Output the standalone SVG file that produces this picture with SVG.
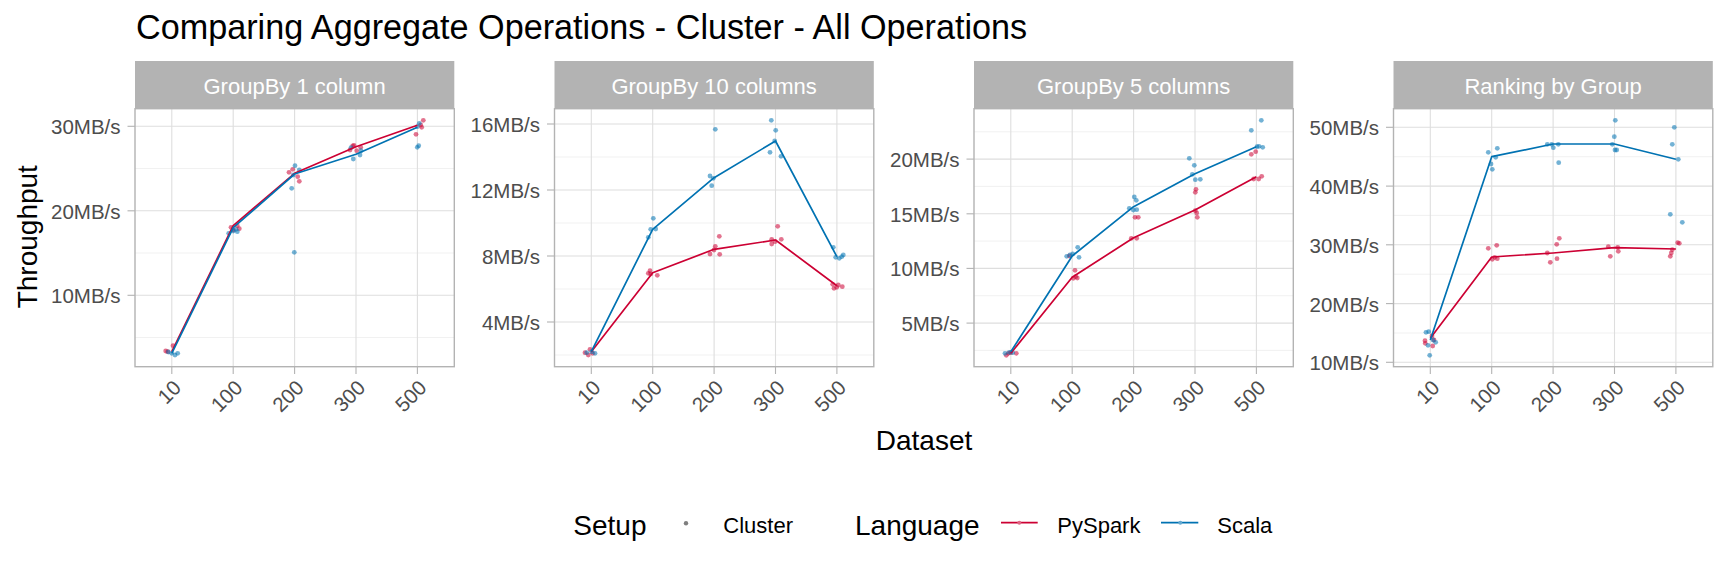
<svg xmlns="http://www.w3.org/2000/svg" width="1728" height="576" viewBox="0 0 1728 576">
<style>
text{font-family:"Liberation Sans",Arial,sans-serif}
.title{font-size:34.2px;fill:#000}
.axt{font-size:28px;fill:#000}
.tick{font-size:20.5px;fill:#4d4d4d}
.ytick{text-anchor:end}
.xtick{text-anchor:end}
.strip{fill:#b3b3b3}
.stript{font-size:22px;fill:#fff;text-anchor:middle}
.border{fill:none;stroke:#b3b3b3;stroke-width:1.4}
.gmaj{stroke:#dedede;stroke-width:1.1}
.gmin{stroke:#ebebeb;stroke-width:0.7}
.tk{stroke:#b3b3b3;stroke-width:1.1}
.lr{fill:none;stroke:#cc0033;stroke-width:1.7;stroke-linejoin:round}
.lb{fill:none;stroke:#0072b2;stroke-width:1.7;stroke-linejoin:round}
.pr circle{fill:#cc0033;fill-opacity:0.55}
.pb circle{fill:#0072b2;fill-opacity:0.55}
.legt{font-size:28px;fill:#000}
.legl{font-size:22px;fill:#000}
</style>
<rect width="1728" height="576" fill="#fff"/>
<text class="title" x="136" y="38.5">Comparing Aggregate Operations - Cluster - All Operations</text>
<text class="axt" transform="translate(37,236.7) rotate(-90)" text-anchor="middle">Throughput</text>
<text class="axt" x="924" y="450" text-anchor="middle">Dataset</text>

<g id="panel1">
<rect class="strip" x="135" y="61" width="319.3" height="47.7"/>
<text class="stript" x="294.6" y="94">GroupBy 1 column</text>
<g>
<line class="gmin" x1="135" x2="454.3" y1="168.5" y2="168.5"/><line class="gmin" x1="135" x2="454.3" y1="253" y2="253"/><line class="gmin" x1="135" x2="454.3" y1="337.5" y2="337.5"/>
<line class="gmaj" x1="135" x2="454.3" y1="126.3" y2="126.3"/><line class="gmaj" x1="135" x2="454.3" y1="210.8" y2="210.8"/><line class="gmaj" x1="135" x2="454.3" y1="295.3" y2="295.3"/>
<line class="gmaj" x1="171.8" x2="171.8" y1="108.7" y2="366.7"/><line class="gmaj" x1="233.2" x2="233.2" y1="108.7" y2="366.7"/><line class="gmaj" x1="294.6" x2="294.6" y1="108.7" y2="366.7"/><line class="gmaj" x1="356" x2="356" y1="108.7" y2="366.7"/><line class="gmaj" x1="417.4" x2="417.4" y1="108.7" y2="366.7"/>
</g>
<g class="pr"><circle cx="165.7" cy="351" r="2.4"/><circle cx="167.7" cy="351.7" r="2.4"/><circle cx="173" cy="345.7" r="2.4"/><circle cx="231" cy="227.3" r="2.4"/><circle cx="237.3" cy="225.7" r="2.4"/><circle cx="239.3" cy="228.7" r="2.4"/><circle cx="233.3" cy="230" r="2.4"/><circle cx="289" cy="172.3" r="2.4"/><circle cx="292.7" cy="169.3" r="2.4"/><circle cx="297.7" cy="176.7" r="2.4"/><circle cx="299.3" cy="181.3" r="2.4"/><circle cx="352.7" cy="146" r="2.4"/><circle cx="354" cy="145.3" r="2.4"/><circle cx="356.7" cy="150.7" r="2.4"/><circle cx="360.7" cy="147.3" r="2.4"/><circle cx="350" cy="150" r="2.4"/><circle cx="416" cy="134.3" r="2.4"/><circle cx="421.7" cy="127.3" r="2.4"/><circle cx="423.3" cy="120.3" r="2.4"/><circle cx="420.7" cy="125" r="2.4"/></g>
<g class="pb"><circle cx="168.3" cy="352" r="2.4"/><circle cx="171.7" cy="353.3" r="2.4"/><circle cx="175" cy="355" r="2.4"/><circle cx="177.7" cy="353.3" r="2.4"/><circle cx="228.7" cy="233.3" r="2.4"/><circle cx="233.3" cy="231" r="2.4"/><circle cx="237.3" cy="231.7" r="2.4"/><circle cx="236" cy="229.3" r="2.4"/><circle cx="291.7" cy="188.3" r="2.4"/><circle cx="295" cy="165.7" r="2.4"/><circle cx="299.3" cy="170" r="2.4"/><circle cx="294.3" cy="252.3" r="2.4"/><circle cx="293.3" cy="175" r="2.4"/><circle cx="351" cy="147.7" r="2.4"/><circle cx="353.3" cy="159" r="2.4"/><circle cx="360" cy="155" r="2.4"/><circle cx="361" cy="150.7" r="2.4"/><circle cx="417.3" cy="147.3" r="2.4"/><circle cx="418.7" cy="145.7" r="2.4"/><circle cx="419.3" cy="123.3" r="2.4"/><circle cx="417.3" cy="126.7" r="2.4"/></g>
<polyline class="lr" points="171.8,351.7 233.2,225.7 294.6,173.3 356,146.7 417.4,125.3"/>
<polyline class="lb" points="171.8,353.3 233.2,227.7 294.6,174 356,154.3 417.4,127.3"/>
<rect class="border" x="135" y="108.7" width="319.3" height="258"/>
<g class="tk"><line x1="127.5" x2="135" y1="126.3" y2="126.3"/><line x1="127.5" x2="135" y1="210.8" y2="210.8"/><line x1="127.5" x2="135" y1="295.3" y2="295.3"/>
<line x1="171.8" x2="171.8" y1="366.7" y2="374"/><line x1="233.2" x2="233.2" y1="366.7" y2="374"/><line x1="294.6" x2="294.6" y1="366.7" y2="374"/><line x1="356" x2="356" y1="366.7" y2="374"/><line x1="417.4" x2="417.4" y1="366.7" y2="374"/></g>
<text class="tick ytick" x="120.5" y="134.3">30MB/s</text><text class="tick ytick" x="120.5" y="218.8">20MB/s</text><text class="tick ytick" x="120.5" y="303.3">10MB/s</text>
<text class="tick xtick" transform="translate(182.3,389) rotate(-45)">10</text><text class="tick xtick" transform="translate(243.7,389) rotate(-45)">100</text><text class="tick xtick" transform="translate(305.1,389) rotate(-45)">200</text><text class="tick xtick" transform="translate(366.5,389) rotate(-45)">300</text><text class="tick xtick" transform="translate(427.9,389) rotate(-45)">500</text>
</g>

<g id="panel2">
<rect class="strip" x="554.5" y="61" width="319.3" height="47.7"/>
<text class="stript" x="714.1" y="94">GroupBy 10 columns</text>
<g>
<line class="gmin" x1="554.5" x2="873.8" y1="157" y2="157"/><line class="gmin" x1="554.5" x2="873.8" y1="223" y2="223"/><line class="gmin" x1="554.5" x2="873.8" y1="289" y2="289"/><line class="gmin" x1="554.5" x2="873.8" y1="355" y2="355"/>
<line class="gmaj" x1="554.5" x2="873.8" y1="124" y2="124"/><line class="gmaj" x1="554.5" x2="873.8" y1="190" y2="190"/><line class="gmaj" x1="554.5" x2="873.8" y1="256" y2="256"/><line class="gmaj" x1="554.5" x2="873.8" y1="322" y2="322"/>
<line class="gmaj" x1="591.3" x2="591.3" y1="108.7" y2="366.7"/><line class="gmaj" x1="652.7" x2="652.7" y1="108.7" y2="366.7"/><line class="gmaj" x1="714.1" x2="714.1" y1="108.7" y2="366.7"/><line class="gmaj" x1="775.5" x2="775.5" y1="108.7" y2="366.7"/><line class="gmaj" x1="836.9" x2="836.9" y1="108.7" y2="366.7"/>
</g>
<g class="pr"><circle cx="585" cy="352.7" r="2.4"/><circle cx="588.3" cy="355" r="2.4"/><circle cx="590" cy="349.3" r="2.4"/><circle cx="592.7" cy="353.3" r="2.4"/><circle cx="648.3" cy="273.3" r="2.4"/><circle cx="650" cy="270.7" r="2.4"/><circle cx="657.3" cy="275.3" r="2.4"/><circle cx="650.7" cy="274" r="2.4"/><circle cx="710" cy="254" r="2.4"/><circle cx="714" cy="250" r="2.4"/><circle cx="715.3" cy="246.3" r="2.4"/><circle cx="719.3" cy="236.3" r="2.4"/><circle cx="719.7" cy="254.3" r="2.4"/><circle cx="771.7" cy="244" r="2.4"/><circle cx="775" cy="241.7" r="2.4"/><circle cx="777.7" cy="226.3" r="2.4"/><circle cx="781.3" cy="239.3" r="2.4"/><circle cx="771.7" cy="239.3" r="2.4"/><circle cx="832.7" cy="284.3" r="2.4"/><circle cx="834" cy="288.3" r="2.4"/><circle cx="836.7" cy="287.3" r="2.4"/><circle cx="842.3" cy="286.7" r="2.4"/><circle cx="838.3" cy="285" r="2.4"/></g>
<g class="pb"><circle cx="586.7" cy="352.7" r="2.4"/><circle cx="595" cy="353.3" r="2.4"/><circle cx="591.7" cy="351.7" r="2.4"/><circle cx="648.3" cy="237.3" r="2.4"/><circle cx="650.7" cy="229.3" r="2.4"/><circle cx="653.3" cy="218.3" r="2.4"/><circle cx="655.7" cy="229" r="2.4"/><circle cx="710" cy="176" r="2.4"/><circle cx="711.7" cy="185.7" r="2.4"/><circle cx="713.3" cy="178.3" r="2.4"/><circle cx="715.3" cy="129.3" r="2.4"/><circle cx="771.3" cy="120.3" r="2.4"/><circle cx="775.7" cy="130.3" r="2.4"/><circle cx="770" cy="152.3" r="2.4"/><circle cx="781" cy="156.3" r="2.4"/><circle cx="774.7" cy="141" r="2.4"/><circle cx="833.3" cy="247.3" r="2.4"/><circle cx="835.7" cy="257.3" r="2.4"/><circle cx="839.3" cy="258.3" r="2.4"/><circle cx="841.7" cy="256.7" r="2.4"/><circle cx="843.3" cy="255" r="2.4"/></g>
<polyline class="lr" points="591.3,351.7 652.7,272.7 714.1,249.3 775.5,240 836.9,285.7"/>
<polyline class="lb" points="591.3,351.7 652.7,229.3 714.1,177.7 775.5,141 836.9,256.7"/>
<rect class="border" x="554.5" y="108.7" width="319.3" height="258"/>
<g class="tk"><line x1="547" x2="554.5" y1="124" y2="124"/><line x1="547" x2="554.5" y1="190" y2="190"/><line x1="547" x2="554.5" y1="256" y2="256"/><line x1="547" x2="554.5" y1="322" y2="322"/>
<line x1="591.3" x2="591.3" y1="366.7" y2="374"/><line x1="652.7" x2="652.7" y1="366.7" y2="374"/><line x1="714.1" x2="714.1" y1="366.7" y2="374"/><line x1="775.5" x2="775.5" y1="366.7" y2="374"/><line x1="836.9" x2="836.9" y1="366.7" y2="374"/></g>
<text class="tick ytick" x="540" y="132">16MB/s</text><text class="tick ytick" x="540" y="198">12MB/s</text><text class="tick ytick" x="540" y="264">8MB/s</text><text class="tick ytick" x="540" y="330">4MB/s</text>
<text class="tick xtick" transform="translate(601.8,389) rotate(-45)">10</text><text class="tick xtick" transform="translate(663.2,389) rotate(-45)">100</text><text class="tick xtick" transform="translate(724.6,389) rotate(-45)">200</text><text class="tick xtick" transform="translate(786,389) rotate(-45)">300</text><text class="tick xtick" transform="translate(847.4,389) rotate(-45)">500</text>
</g>

<g id="panel3">
<rect class="strip" x="974" y="61" width="319.3" height="47.7"/>
<text class="stript" x="1133.6" y="94">GroupBy 5 columns</text>
<g>
<line class="gmin" x1="974" x2="1293.3" y1="131.8" y2="131.8"/><line class="gmin" x1="974" x2="1293.3" y1="186.4" y2="186.4"/><line class="gmin" x1="974" x2="1293.3" y1="241.1" y2="241.1"/><line class="gmin" x1="974" x2="1293.3" y1="295.7" y2="295.7"/><line class="gmin" x1="974" x2="1293.3" y1="350.4" y2="350.4"/>
<line class="gmaj" x1="974" x2="1293.3" y1="159.1" y2="159.1"/><line class="gmaj" x1="974" x2="1293.3" y1="213.8" y2="213.8"/><line class="gmaj" x1="974" x2="1293.3" y1="268.4" y2="268.4"/><line class="gmaj" x1="974" x2="1293.3" y1="323.1" y2="323.1"/>
<line class="gmaj" x1="1010.8" x2="1010.8" y1="108.7" y2="366.7"/><line class="gmaj" x1="1072.2" x2="1072.2" y1="108.7" y2="366.7"/><line class="gmaj" x1="1133.6" x2="1133.6" y1="108.7" y2="366.7"/><line class="gmaj" x1="1195" x2="1195" y1="108.7" y2="366.7"/><line class="gmaj" x1="1256.4" x2="1256.4" y1="108.7" y2="366.7"/>
</g>
<g class="pr"><circle cx="1006.3" cy="355.3" r="2.4"/><circle cx="1008.3" cy="353.3" r="2.4"/><circle cx="1010.7" cy="352.7" r="2.4"/><circle cx="1016.3" cy="353.3" r="2.4"/><circle cx="1069.3" cy="256" r="2.4"/><circle cx="1075" cy="270.3" r="2.4"/><circle cx="1073.3" cy="278.3" r="2.4"/><circle cx="1077.3" cy="278" r="2.4"/><circle cx="1075.7" cy="276.7" r="2.4"/><circle cx="1131.3" cy="238.3" r="2.4"/><circle cx="1135" cy="217.3" r="2.4"/><circle cx="1138.3" cy="217.3" r="2.4"/><circle cx="1136.7" cy="238.3" r="2.4"/><circle cx="1195.3" cy="192.3" r="2.4"/><circle cx="1196" cy="189.3" r="2.4"/><circle cx="1196.7" cy="213" r="2.4"/><circle cx="1197.3" cy="217.3" r="2.4"/><circle cx="1195.3" cy="210.7" r="2.4"/><circle cx="1251.3" cy="154.3" r="2.4"/><circle cx="1253.7" cy="179" r="2.4"/><circle cx="1255.7" cy="151.7" r="2.4"/><circle cx="1258.7" cy="179" r="2.4"/><circle cx="1261.7" cy="176.3" r="2.4"/></g>
<g class="pb"><circle cx="1005" cy="353.3" r="2.4"/><circle cx="1009.3" cy="352.3" r="2.4"/><circle cx="1012.7" cy="352.7" r="2.4"/><circle cx="1066.7" cy="256.3" r="2.4"/><circle cx="1070" cy="255" r="2.4"/><circle cx="1072.7" cy="254" r="2.4"/><circle cx="1077.7" cy="247.3" r="2.4"/><circle cx="1079" cy="257.3" r="2.4"/><circle cx="1129.3" cy="208.3" r="2.4"/><circle cx="1134.3" cy="197" r="2.4"/><circle cx="1136.3" cy="200.3" r="2.4"/><circle cx="1133.3" cy="210" r="2.4"/><circle cx="1136.7" cy="209.7" r="2.4"/><circle cx="1189.3" cy="158.3" r="2.4"/><circle cx="1192.3" cy="174.3" r="2.4"/><circle cx="1194.3" cy="165.3" r="2.4"/><circle cx="1195.3" cy="179.7" r="2.4"/><circle cx="1200.3" cy="179.3" r="2.4"/><circle cx="1251.3" cy="130.3" r="2.4"/><circle cx="1259" cy="146.3" r="2.4"/><circle cx="1261.3" cy="120.3" r="2.4"/><circle cx="1262.7" cy="147.3" r="2.4"/><circle cx="1257" cy="146.7" r="2.4"/></g>
<polyline class="lr" points="1010.8,353.3 1072.2,277.3 1133.6,237.7 1195,210 1256.4,176.7"/>
<polyline class="lb" points="1010.8,351.7 1072.2,256 1133.6,206.7 1195,173.7 1256.4,146.7"/>
<rect class="border" x="974" y="108.7" width="319.3" height="258"/>
<g class="tk"><line x1="966.5" x2="974" y1="159.1" y2="159.1"/><line x1="966.5" x2="974" y1="213.8" y2="213.8"/><line x1="966.5" x2="974" y1="268.4" y2="268.4"/><line x1="966.5" x2="974" y1="323.1" y2="323.1"/>
<line x1="1010.8" x2="1010.8" y1="366.7" y2="374"/><line x1="1072.2" x2="1072.2" y1="366.7" y2="374"/><line x1="1133.6" x2="1133.6" y1="366.7" y2="374"/><line x1="1195" x2="1195" y1="366.7" y2="374"/><line x1="1256.4" x2="1256.4" y1="366.7" y2="374"/></g>
<text class="tick ytick" x="959.5" y="167.1">20MB/s</text><text class="tick ytick" x="959.5" y="221.8">15MB/s</text><text class="tick ytick" x="959.5" y="276.4">10MB/s</text><text class="tick ytick" x="959.5" y="331.1">5MB/s</text>
<text class="tick xtick" transform="translate(1021.3,389) rotate(-45)">10</text><text class="tick xtick" transform="translate(1082.7,389) rotate(-45)">100</text><text class="tick xtick" transform="translate(1144.1,389) rotate(-45)">200</text><text class="tick xtick" transform="translate(1205.5,389) rotate(-45)">300</text><text class="tick xtick" transform="translate(1266.9,389) rotate(-45)">500</text>
</g>

<g id="panel4">
<rect class="strip" x="1393.5" y="61" width="319.3" height="47.7"/>
<text class="stript" x="1553.1" y="94">Ranking by Group</text>
<g>
<line class="gmin" x1="1393.5" x2="1712.8" y1="156.7" y2="156.7"/><line class="gmin" x1="1393.5" x2="1712.8" y1="215.4" y2="215.4"/><line class="gmin" x1="1393.5" x2="1712.8" y1="274.2" y2="274.2"/><line class="gmin" x1="1393.5" x2="1712.8" y1="333" y2="333"/>
<line class="gmaj" x1="1393.5" x2="1712.8" y1="127.3" y2="127.3"/><line class="gmaj" x1="1393.5" x2="1712.8" y1="186.1" y2="186.1"/><line class="gmaj" x1="1393.5" x2="1712.8" y1="244.8" y2="244.8"/><line class="gmaj" x1="1393.5" x2="1712.8" y1="303.6" y2="303.6"/><line class="gmaj" x1="1393.5" x2="1712.8" y1="362.3" y2="362.3"/>
<line class="gmaj" x1="1430.3" x2="1430.3" y1="108.7" y2="366.7"/><line class="gmaj" x1="1491.7" x2="1491.7" y1="108.7" y2="366.7"/><line class="gmaj" x1="1553.1" x2="1553.1" y1="108.7" y2="366.7"/><line class="gmaj" x1="1614.5" x2="1614.5" y1="108.7" y2="366.7"/><line class="gmaj" x1="1675.9" x2="1675.9" y1="108.7" y2="366.7"/>
</g>
<g class="pr"><circle cx="1425" cy="340.7" r="2.4"/><circle cx="1425.3" cy="343.3" r="2.4"/><circle cx="1432" cy="336" r="2.4"/><circle cx="1432.7" cy="346" r="2.4"/><circle cx="1434" cy="340" r="2.4"/><circle cx="1488.3" cy="248.3" r="2.4"/><circle cx="1492.3" cy="259.3" r="2.4"/><circle cx="1494.7" cy="257.3" r="2.4"/><circle cx="1496.7" cy="245.3" r="2.4"/><circle cx="1497.3" cy="258.7" r="2.4"/><circle cx="1547.3" cy="253" r="2.4"/><circle cx="1550.3" cy="262.3" r="2.4"/><circle cx="1556.7" cy="244.3" r="2.4"/><circle cx="1557" cy="258.7" r="2.4"/><circle cx="1559.3" cy="238.3" r="2.4"/><circle cx="1608.3" cy="246.7" r="2.4"/><circle cx="1610.3" cy="256.3" r="2.4"/><circle cx="1617.7" cy="247.3" r="2.4"/><circle cx="1618.3" cy="251.3" r="2.4"/><circle cx="1670.3" cy="256.3" r="2.4"/><circle cx="1671.3" cy="253" r="2.4"/><circle cx="1672.3" cy="249.7" r="2.4"/><circle cx="1677.7" cy="242.7" r="2.4"/><circle cx="1679.3" cy="243.3" r="2.4"/></g>
<g class="pb"><circle cx="1426" cy="332.3" r="2.4"/><circle cx="1428.7" cy="331.7" r="2.4"/><circle cx="1428" cy="345.3" r="2.4"/><circle cx="1429.7" cy="355.3" r="2.4"/><circle cx="1435.7" cy="342.3" r="2.4"/><circle cx="1433" cy="340" r="2.4"/><circle cx="1488.3" cy="152.3" r="2.4"/><circle cx="1491" cy="164" r="2.4"/><circle cx="1492.3" cy="169.3" r="2.4"/><circle cx="1495.7" cy="157.3" r="2.4"/><circle cx="1497.3" cy="148.3" r="2.4"/><circle cx="1547.3" cy="144.3" r="2.4"/><circle cx="1551.7" cy="144.3" r="2.4"/><circle cx="1553.3" cy="147.7" r="2.4"/><circle cx="1558.3" cy="144.3" r="2.4"/><circle cx="1558.7" cy="162.7" r="2.4"/><circle cx="1612.3" cy="144.3" r="2.4"/><circle cx="1614.3" cy="136.7" r="2.4"/><circle cx="1615" cy="150" r="2.4"/><circle cx="1615.3" cy="120.3" r="2.4"/><circle cx="1616.7" cy="150" r="2.4"/><circle cx="1670.3" cy="214.3" r="2.4"/><circle cx="1672.3" cy="144.3" r="2.4"/><circle cx="1674.3" cy="127.3" r="2.4"/><circle cx="1678.3" cy="159.3" r="2.4"/><circle cx="1682.3" cy="222.3" r="2.4"/></g>
<polyline class="lr" points="1430.3,338.3 1491.7,257 1553.1,253 1614.5,247.7 1675.9,249"/>
<polyline class="lb" points="1430.3,340 1491.7,156.7 1553.1,144 1614.5,144 1675.9,159.3"/>
<rect class="border" x="1393.5" y="108.7" width="319.3" height="258"/>
<g class="tk"><line x1="1386" x2="1393.5" y1="127.3" y2="127.3"/><line x1="1386" x2="1393.5" y1="186.1" y2="186.1"/><line x1="1386" x2="1393.5" y1="244.8" y2="244.8"/><line x1="1386" x2="1393.5" y1="303.6" y2="303.6"/><line x1="1386" x2="1393.5" y1="362.3" y2="362.3"/>
<line x1="1430.3" x2="1430.3" y1="366.7" y2="374"/><line x1="1491.7" x2="1491.7" y1="366.7" y2="374"/><line x1="1553.1" x2="1553.1" y1="366.7" y2="374"/><line x1="1614.5" x2="1614.5" y1="366.7" y2="374"/><line x1="1675.9" x2="1675.9" y1="366.7" y2="374"/></g>
<text class="tick ytick" x="1379" y="135.3">50MB/s</text><text class="tick ytick" x="1379" y="194.1">40MB/s</text><text class="tick ytick" x="1379" y="252.8">30MB/s</text><text class="tick ytick" x="1379" y="311.6">20MB/s</text><text class="tick ytick" x="1379" y="370.3">10MB/s</text>
<text class="tick xtick" transform="translate(1440.8,389) rotate(-45)">10</text><text class="tick xtick" transform="translate(1502.2,389) rotate(-45)">100</text><text class="tick xtick" transform="translate(1563.6,389) rotate(-45)">200</text><text class="tick xtick" transform="translate(1625,389) rotate(-45)">300</text><text class="tick xtick" transform="translate(1686.4,389) rotate(-45)">500</text>
</g>

<g id="legend">
<text class="legt" x="573.3" y="535">Setup</text>
<circle cx="686" cy="523.3" r="2.2" fill="#7f7f7f"/>
<text class="legl" x="723.3" y="532.7">Cluster</text>
<text class="legt" x="855" y="535">Language</text>
<line x1="1001" x2="1037.7" y1="522.7" y2="522.7" stroke="#cc0033" stroke-width="1.8"/>
<circle cx="1019.3" cy="522.7" r="2" fill="#e06685"/>
<text class="legl" x="1057.3" y="532.7">PySpark</text>
<line x1="1161" x2="1198.3" y1="522.7" y2="522.7" stroke="#0072b2" stroke-width="1.8"/>
<circle cx="1180.3" cy="522.7" r="2" fill="#66aad1"/>
<text class="legl" x="1217.3" y="532.7">Scala</text>
</g>
</svg>
